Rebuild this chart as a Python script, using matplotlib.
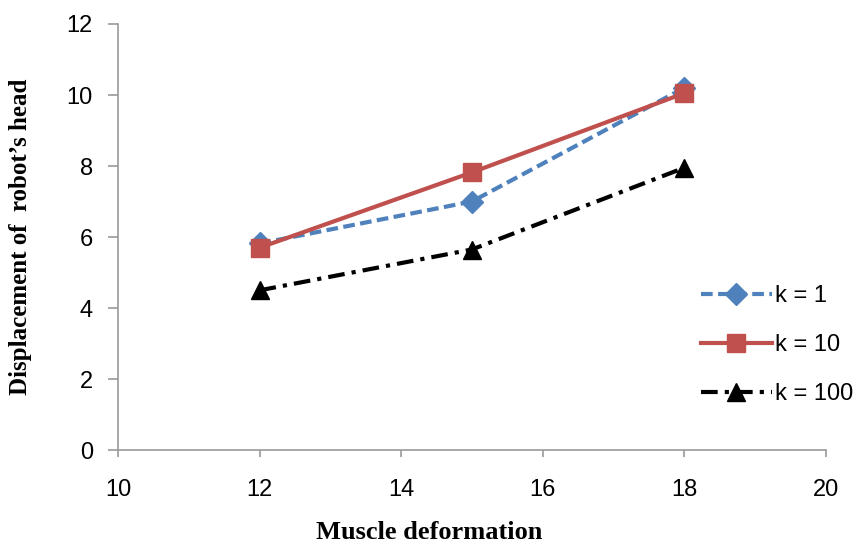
import matplotlib
matplotlib.use("Agg")
import matplotlib.pyplot as plt

x = [12, 15, 18]
k1 = [5.82, 7.0, 10.2]
k10 = [5.7, 7.82, 10.05]
k100 = [4.5, 5.65, 7.95]
labels = ["k = 1", "k = 10", "k = 100"]
xticks = [10, 12, 14, 16, 18, 20]
yticks = [0, 2, 4, 6, 8, 10, 12]

fig = plt.figure(figsize=(8.61, 5.45), dpi=100)
ax = fig.add_axes([0.137, 0.174, 0.822, 0.782])

ax.plot(x, k1, color="#4F81BD", lw=3, dashes=(2.8, 1.3), marker="D", ms=11, label=labels[0])
ax.plot(x, k10, color="#C0504D", lw=3, marker="s", ms=13.5, label=labels[1])
ax.plot(x, k100, color="black", lw=3, dashes=(4, 1.7, 1, 1.7), marker="^", ms=13, label=labels[2])

ax.set_xlim(10, 20)
ax.set_ylim(0, 12)
ax.set_xticks(xticks)
ax.set_yticks(yticks)
for s in ["top", "right"]:
    ax.spines[s].set_visible(False)
for s in ["left", "bottom"]:
    ax.spines[s].set_color("#999999")
    ax.spines[s].set_linewidth(1.2)
ax.tick_params(direction="out", width=1.2, color="#999999", labelsize=17)
ax.tick_params(axis="x", length=5, pad=16)
ax.tick_params(axis="y", length=7, pad=11)
for t in ax.get_xticklabels() + ax.get_yticklabels():
    t.set_fontfamily("Liberation Sans")

ax.set_xlabel("Muscle deformation", fontfamily="Liberation Serif", fontweight="bold", fontsize=19, va="center")
ax.xaxis.set_label_coords(0.44, -0.193)
ax.set_ylabel("Displacement of  robot\u2019s head", fontfamily="Liberation Serif", fontweight="bold", fontsize=18, va="center")
ax.yaxis.set_label_coords(-0.137, 0.5)

leg = ax.legend(loc="center left", bbox_to_anchor=(701 / 861, 1 - 345 / 545), bbox_transform=fig.transFigure,
                frameon=False, prop={"family": "Liberation Sans", "size": 17}, handlelength=3.0,
                labelspacing=1.15, handletextpad=0.15, borderpad=0, borderaxespad=0)
fig.savefig("out.png", dpi=100)
